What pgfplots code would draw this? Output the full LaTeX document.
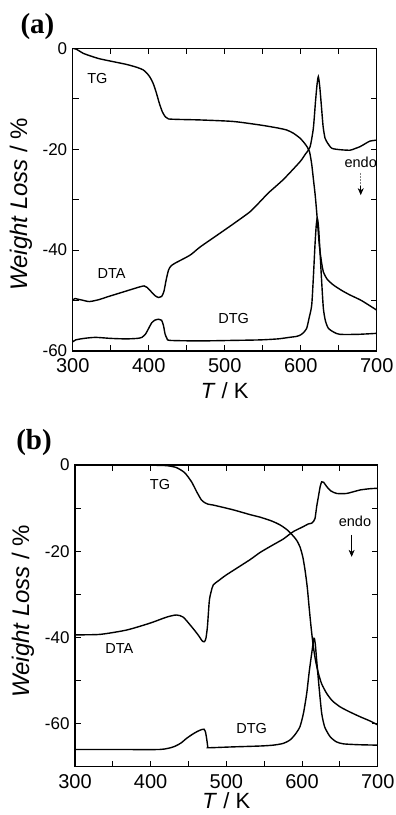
\documentclass[border=0pt]{standalone}
\usepackage{pgfplots}
\pgfplotsset{compat=1.18}
\usepackage{fontspec}
\setmainfont{Liberation Sans}
\newfontfamily\panelfont{Liberation Serif}
\usetikzlibrary{arrows.meta}

\pgfplotsset{
  tgaxis/.style={
    scale only axis,
    anchor=south west,
    xmin=300, xmax=700,
    xtick={300,400,500,600,700},
    minor x tick num=1,
    minor y tick num=1,
    tick align=inside,
    major tick length=6pt,
    minor tick length=6pt,
    major tick style={line width=0.9pt, black},
    minor tick style={line width=0.9pt, black},
    axis line style={line width=1.1pt},
    /pgf/number format/assume math mode=true,
    /pgf/number format/1000 sep={},
    x tick label style={font=\fontsize{20}{24}\selectfont, yshift=-4pt},
    y tick label style={font=\fontsize{17}{20}\selectfont, xshift=-2pt},
    xlabel={\textit{T} / K},
    ylabel={\textit{Weight Loss} / \%},
    xlabel style={font=\fontsize{22}{26}\selectfont, anchor=center},
    ylabel style={font=\fontsize{24}{28}\selectfont, anchor=center},
    cycle list={{black}},
    every axis plot/.append style={line width=1.4pt, no markers, smooth, tension=0.4},
    every axis plot post/.append style={black},
  }
}

\begin{document}
\begin{tikzpicture}
\useasboundingbox (0pt,0pt) rectangle (396pt,815pt);

\node[font=\panelfont\bfseries\fontsize{29}{32}\selectfont] at (37.5pt,788.5pt) {(a)};
\node[font=\panelfont\bfseries\fontsize{29}{32}\selectfont] at (34pt,372pt) {(b)};

% ---------------- panel (a) ----------------
\begin{axis}[tgaxis,
  at={(72.7pt,464pt)}, width=304pt, height=302.7pt,
  ymin=-60, ymax=0, ytick={-60,-40,-20,0},
  xlabel style={at={(axis description cs:0.5,-0.13)}},
  ylabel style={at={(axis description cs:-0.17,0.485)}},
]
% TG
\addplot coordinates {
(300,0) (305,-0.2) (314,-1.0) (325,-1.6) (336,-2.1) (355,-2.7) (371,-3.2) (385,-3.8) (393,-4.3)
(398,-5.0) (402,-5.8) (406,-7.0) (410,-8.8) (414,-10.9) (418,-12.6) (422,-13.6) (426,-14.0)
(440,-14.1) (467.5,-14.2) (511,-14.5) (546.4,-15.2) (570,-15.8) (581.6,-16.2) (590,-16.8)
(599,-17.8) (606,-19.0) (611.4,-20.4) (614.5,-23) (616.6,-25.8) (619,-29) (621,-32.4)
(624.5,-39) (627,-42) (629.8,-44.3) (635,-45.8) (642.9,-46.9) (654,-48) (664.9,-48.9)
(680,-50.0) (700,-51.9)
};
% DTA
\addplot coordinates {
(300,-49.9) (303,-49.6) (306,-49.7) (312,-49.9) (322,-50.2) (335,-49.8) (345,-49.3) (360,-48.6)
(375,-47.9) (388,-47.3) (394,-47.1) (398,-47.4) (403,-48.2) (408,-49.0) (413,-49.4) (417,-49.2)
(420,-48.2) (423,-45.9) (426,-44.0) (429,-43.2) (434.6,-42.6) (454.4,-41.0) (467.5,-39.4)
(489.5,-37.1) (511.4,-34.8) (533.3,-32.4) (546.5,-30.4) (558,-28.6) (577.2,-26.0) (599,-22.5)
(606,-21.0) (612.2,-19.6) (616.6,-15.9) (619.5,-10.5) (621.5,-7.2) (623.2,-5.6) (625,-7.5)
(627,-11) (629.5,-15.5) (632,-17.8) (634.2,-18.5) (640.8,-19.8) (652,-20.1) (664.9,-20.2)
(671,-19.9) (678,-19.5) (685,-18.9) (691,-18.4) (700,-18.2)
};
% DTG
\addplot coordinates {
(300,-58.2) (304,-57.8) (315,-57.5) (330,-57.3) (350,-57.5) (370,-57.6) (385,-57.5) (391,-57.3)
(396,-56.6) (400,-55.5) (404,-54.4) (408,-53.9) (413,-53.7) (417,-53.9) (419.5,-55) (421.5,-56.6)
(424,-57.5) (428,-57.9) (467.5,-58.0) (511,-57.9) (546.4,-57.8) (570,-57.6) (585,-57.3)
(594.7,-57.1) (600,-56.8) (604,-56.3) (607.9,-55.5) (611,-53.5) (614.5,-50.9) (616.8,-45)
(618.8,-39) (620.5,-35) (621.9,-33.7) (623.5,-35.5) (625.4,-40.3) (627.5,-46) (629.8,-51.5)
(632.5,-54) (636.4,-55.5) (644,-56.3) (651.7,-56.7) (675,-56.7) (700,-56.5)
};
\node[font=\fontsize{14.5}{17}\selectfont] at (axis cs:332.5,-6) {TG};
\node[font=\fontsize{14.5}{17}\selectfont] at (axis cs:351.3,-44.6) {DTA};
\node[font=\fontsize{14.5}{17}\selectfont] at (axis cs:511.8,-53.5) {DTG};
\node[font=\fontsize{14.5}{17}\selectfont] at (axis cs:679,-22.6) {endo};
\draw[densely dotted, line width=0.5pt, gray] (axis cs:679,-24.7) -- (axis cs:679,-27.3);
\draw[line width=0.6pt, -{Stealth[length=7pt,width=6pt]}] (axis cs:679,-27.3) -- (axis cs:679,-29.1);
\end{axis}

% ---------------- panel (b) ----------------
\begin{axis}[tgaxis,
  at={(75pt,48.3pt)}, width=302.7pt, height=301.7pt,
  ymin=-70, ymax=0, ytick={-60,-40,-20,0},
  minor ytick={-70,-50,-30,-10},
  minor y tick num=0,
  xlabel style={at={(axis description cs:0.5,-0.112)}},
  ylabel style={at={(axis description cs:-0.172,0.515)}},
]
% TG
\addplot coordinates {
(300,0) (350,0) (400,-0.05) (421,-0.15) (434,-0.6) (445,-1.8) (454,-3.9) (460.8,-6.2) (467,-8.1)
(472,-8.8) (476,-9.1) (482.8,-9.3) (509,-10.4) (531,-11.5) (544.5,-12.1) (560,-13.0) (570.9,-13.9)
(580,-15.0) (588.5,-16.5) (593,-17.5) (597.3,-19) (601,-21.3) (604,-24.4) (607,-28.5) (609.7,-33.6)
(612.5,-38.5) (615,-42.2) (618,-45.5) (621.6,-48.3) (626,-50.8) (632.6,-53) (640,-54.7)
(650.2,-56.1) (662,-57.2) (676.6,-58.4) (690,-59.4) (700,-60.3)
};
% DTA
\addplot coordinates {
(300,-39.4) (333,-39.3) (368,-38.3) (399,-36.7) (421,-35.3) (434,-34.8) (443,-35.3) (454,-37.5)
(463,-39.5) (468,-40.8) (471,-41.0) (473,-40.2) (475,-37.5) (477.5,-31.5) (480,-29.3) (482.8,-27.8)
(490,-26.8) (500,-25.5) (531,-22) (544.5,-20.3) (560,-18.7) (575,-17.2) (584.1,-16) (590,-15.3)
(601.7,-14.3) (608,-13.7) (612.8,-13.5) (615.5,-13.0) (617.2,-12.4) (619.5,-9.5) (621.6,-7.4)
(624,-5.0) (626,-3.9) (628.5,-4.0) (632.6,-5) (638,-6.0) (645.8,-6.6) (659,-6.6) (676.6,-5.8)
(690,-5.5) (700,-5.4)
};
% DTG
\addplot coordinates {
(300,-66) (350,-66) (412,-66) (430,-65.4) (440,-64.5) (447.6,-63.4) (455,-62.5) (460.8,-61.9)
(467,-61.4) (470.5,-61.3) (472.5,-62.0) (474,-63.5) (475.5,-65.4) (477,-65.6) (509,-65.4)
(544.5,-65.2) (562,-65) (575,-64.6) (584.1,-63.8) (591,-62.5) (597.3,-60.7) (602,-57.5)
(606.2,-53) (609.5,-48) (612.8,-43.7) (615.8,-40.2) (617.5,-41.5) (619.3,-45.2) (622.5,-51.5)
(626,-57.6) (630,-60.8) (637,-63) (645,-64.2) (654.6,-64.7) (675,-64.9) (700,-65)
};
\node[font=\fontsize{14.5}{17}\selectfont] at (axis cs:412.3,-4.6) {TG};
\node[font=\fontsize{14.5}{17}\selectfont] at (axis cs:358.6,-42.6) {DTA};
\node[font=\fontsize{14.5}{17}\selectfont] at (axis cs:533.5,-61.1) {DTG};
\node[font=\fontsize{14.5}{17}\selectfont] at (axis cs:670,-13.1) {endo};
\draw[line width=0.6pt, -{Stealth[length=7pt,width=6pt]}] (axis cs:665.6,-16.2) -- (axis cs:665.6,-21.3);
\end{axis}
\end{tikzpicture}
\end{document}
